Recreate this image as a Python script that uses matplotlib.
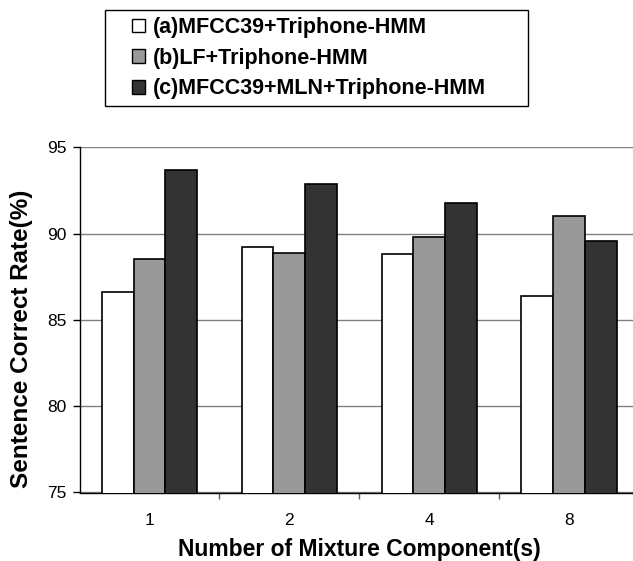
import matplotlib
matplotlib.use("Agg")
import matplotlib.pyplot as plt
from matplotlib.patches import Rectangle
import numpy as np

plt.rcParams['font.family'] = ['Liberation Sans', 'DejaVu Sans']

categories = ['1', '2', '4', '8']
series_names = ['(a)MFCC39+Triphone-HMM', '(b)LF+Triphone-HMM', '(c)MFCC39+MLN+Triphone-HMM']
mfcc39 = [86.6, 89.2, 88.8, 86.4]
lf = [88.5, 88.9, 89.8, 91.0]
mfcc39_mln = [93.7, 92.9, 91.8, 89.6]
colors = ['#ffffff', '#999999', '#333333']

W, H = 633, 561
fig = plt.figure(figsize=(W / 100, H / 100), dpi=100)
# plot area runs a bit past the right edge of the picture
ax = fig.add_axes([79.5 / W, 1 - 492.5 / H, (639 - 79.5) / W, (492.5 - 147.3) / H])

x = np.arange(len(categories))
w = 0.227
handles = []
for k, vals in enumerate([mfcc39, lf, mfcc39_mln]):
    b = ax.bar(x + (k - 1) * w, vals, width=w, color=colors[k], edgecolor='black',
               linewidth=1.2, zorder=3, label=series_names[k])
    handles.append(b)

ax.set_xlim(-0.5, len(categories) - 0.5)
ax.set_ylim(75, 95)
ax.set_yticks([75, 80, 85, 90, 95])
ax.yaxis.grid(True, color='#808080', linewidth=1.0, zorder=0)
ax.set_axisbelow(True)

for s in ['top', 'right']:
    ax.spines[s].set_visible(False)
ax.spines['left'].set_linewidth(1.0)
ax.spines['bottom'].set_linewidth(1.0)

ax.set_xticks(x)
ax.set_xticklabels(categories)
ax.set_xticks(np.arange(0.5, len(categories) - 0.5, 1), minor=True)
ax.tick_params(axis='x', which='major', length=0, pad=15, labelsize=12.5)
ax.tick_params(axis='x', which='minor', length=4, width=1, direction='out', color='#606060')
ax.tick_params(axis='y', length=5, width=1, labelsize=12.5, pad=4)

ax.set_xlabel('Number of Mixture Component(s)', fontsize=16.5, fontweight='bold', labelpad=7)
ax.set_ylabel('Sentence Correct Rate(%)', fontsize=17.5, fontweight='bold')
ax.yaxis.set_label_coords((33 - 79.5) / (639 - 79.5), (492.5 - 339) / (492.5 - 147.3))

# legend frame drawn separately so it can be wider than its entries
fig.patches.append(Rectangle((105 / W, 1 - 106 / H), (528 - 105) / W, 96 / H,
                             transform=fig.transFigure, facecolor='white',
                             edgecolor='black', linewidth=1.0))
leg = fig.legend(handles=handles, labels=series_names, loc='upper left',
                 bbox_to_anchor=(132 / W, 1 - 17 / H), frameon=False,
                 handlelength=0.6, handleheight=0.6,
                 handletextpad=0.35, labelspacing=0.45, borderpad=0, borderaxespad=0,
                 prop={'size': 15.5, 'weight': 'bold'})
for h in leg.legend_handles:
    h.set_linewidth(1.0)

fig.savefig('out.png', dpi=100)
